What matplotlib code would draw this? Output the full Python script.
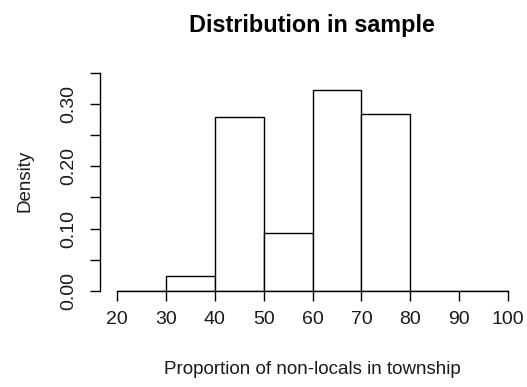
import numpy as np
import matplotlib
matplotlib.use("Agg")
import matplotlib.pyplot as plt

# histogram of the sample, density scale (bin width 10)
bin_edges = [20, 30, 40, 50, 60, 70, 80, 90, 100]
densities = [0.0, 0.024, 0.279, 0.093, 0.322, 0.284, 0.0, 0.0]
x_ticks = [20, 30, 40, 50, 60, 70, 80, 90, 100]
y_ticks = [0.00, 0.05, 0.10, 0.15, 0.20, 0.25, 0.30, 0.35]
y_tick_labels = ["0.00", "", "0.10", "", "0.20", "", "0.30", ""]

plt.rcParams["font.family"] = ["Liberation Sans", "DejaVu Sans"]

fig = plt.figure(figsize=(5.27, 3.87), dpi=100)
ax = fig.add_axes([0.1898, 0.2488, 0.804, 0.5657])

lefts = np.array(bin_edges[:-1])
widths = np.diff(bin_edges)
ax.bar(lefts, densities, width=widths, align="edge",
       facecolor="white", edgecolor="black", linewidth=1.0)

ax.set_xlim(16.5, 103.2)
ax.set_ylim(0, 0.352)

for side in ["top", "right"]:
    ax.spines[side].set_visible(False)
ax.spines["left"].set_bounds(0, 0.35)
ax.spines["bottom"].set_bounds(20, 100)
ax.spines["left"].set_linewidth(1.0)
ax.spines["bottom"].set_linewidth(1.0)

ax.set_xticks(x_ticks)
ax.set_yticks(y_ticks)
ax.set_yticklabels(y_tick_labels, rotation=90, va="center")
ax.tick_params(axis="both", length=7.3, width=1.0, labelsize=14, labelcolor="#1a1a1a")
ax.tick_params(axis="x", pad=7)
ax.tick_params(axis="y", pad=9)

ax.set_xlabel("Proportion of non-locals in township", fontsize=13.5,
              labelpad=24, color="#1a1a1a")
ax.set_ylabel("Density", fontsize=13.5, labelpad=19, color="#1a1a1a")
ax.set_title("Distribution in sample", fontsize=16.8, fontweight="bold", pad=28.5)

fig.savefig("out.png", dpi=100)
